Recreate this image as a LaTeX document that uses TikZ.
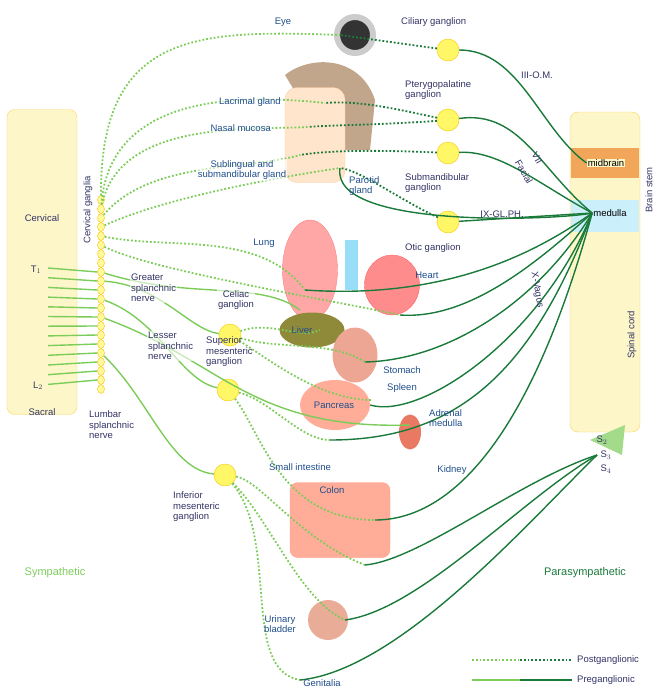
\documentclass[tikz,border=0pt]{standalone}
\usepackage{fontspec}
\setmainfont{Liberation Sans}
\usetikzlibrary{shapes.geometric}
\definecolor{sg}{HTML}{7CCC5A}
\definecolor{pg}{HTML}{1A7A3A}
\definecolor{org}{HTML}{1F4E8C}
\definecolor{gl}{HTML}{333366}
\definecolor{cord}{HTML}{FDF6C9}
\begin{document}
\begin{tikzpicture}[x=1pt,y=-1pt,font=\fontsize{9.5}{10.5}\selectfont,
 spre/.style={sg,line width=1.4pt},
 spost/.style={sg,line width=1.8pt,dotted},
 ppre/.style={pg,line width=1.4pt},
 ppost/.style={pg,line width=1.8pt,dotted},
 gang/.style={circle,draw=yellow!60!orange,fill=yellow!60,minimum size=22pt,inner sep=0},
 olab/.style={text=org,inner sep=1pt},
 glab/.style={text=gl,inner sep=1pt,align=left}]
\useasboundingbox (0,0) rectangle (658,691);
% spinal cords
\node[draw=yellow!50!orange!60,fill=cord,rounded corners=8pt,minimum width=70pt,minimum height=305pt] (lc) at (42,262) {};
\node[draw=yellow!50!orange!60,fill=cord,rounded corners=8pt,minimum width=70pt,minimum height=320pt] (rc) at (605,272) {};
\fill[orange!70!brown!70] (571,148) rectangle (639,178);
\fill[cyan!20] (571,200) rectangle (639,232);
\node[fill=cord,inner sep=1pt] (mb) at (606,163) {midbrain};
\node[fill=cyan!20,inner sep=1pt] (md) at (610,213) {medulla};
\fill[sg!70] (590,440) -- (625,425) -- (622,455) -- cycle;
\node[text=gl] (cerv) at (42,218) {Cervical};
\node[text=gl] (t1) at (36,270) {T$_1$};
\node[text=gl] (l2) at (38,386) {L$_2$};
\node[text=gl] (sac) at (42,412) {Sacral};
\node[text=gl,rotate=90] (bs) at (649,190) {Brain stem};
\node[text=gl,rotate=90] (sc) at (632,335) {Spinal cord};
\node[text=gl] (s2) at (602,440) {S$_2$};
\node[text=gl] (s3) at (606,455) {S$_3$};
\node[text=gl] (s4) at (606,469) {S$_4$};
% sympathetic chain
\foreach \i in {0,...,21} \node[ellipse,draw=yellow!50!orange,fill=yellow!40,minimum width=7pt,minimum height=9pt,inner sep=0] (ch\i) at (101,200+\i*9) {};
\node[text=gl,rotate=90] (cg) at (88,210) {Cervical ganglia};
% organs
\node[circle,fill=black!80,draw=gray!40,line width=6pt,minimum size=36pt] (eye) at (355,35) {};
\fill[brown!60!gray!70] (285,75) .. controls (310,55) and (360,55) .. (375,100) -- (370,150) -- (330,150) -- cycle;
\node[fill=orange!20,draw=orange!40,rounded corners=12pt,minimum width=60pt,minimum height=95pt] (head) at (315,135) {};
\node[fill=red!35,draw=red!50,ellipse,minimum width=55pt,minimum height=100pt] (lung) at (310,270) {};
\node[fill=red!45,draw=red!60,ellipse,minimum width=55pt,minimum height=60pt] (heart) at (392,285) {};
\fill[cyan!40] (345,240) rectangle (358,290);
\node[fill=olive!60!gray,ellipse,minimum width=65pt,minimum height=35pt] (liver) at (312,330) {};
\node[fill=red!40!brown!50,ellipse,minimum width=45pt,minimum height=55pt] (stom) at (355,355) {};
\node[fill=orange!40!red!40,ellipse,minimum width=70pt,minimum height=50pt] (pan) at (335,405) {};
\node[fill=red!50!brown!70,ellipse,minimum width=22pt,minimum height=35pt] (kid) at (410,432) {};
\node[fill=orange!40!red!40,rounded corners=8pt,minimum width=100pt,minimum height=75pt,draw=orange!50!red!50] (colon) at (340,520) {};
\node[fill=red!30!brown!50,ellipse,minimum width=40pt,minimum height=40pt] (blad) at (328,620) {};
% ganglia
\node[gang] (cil) at (448,50) {};
\node[gang] (pte) at (448,120) {};
\node[gang] (sub) at (448,153) {};
\node[gang] (oti) at (448,222) {};
\node[gang] (cel) at (230,335) {};
\node[gang] (sup) at (228,390) {};
\node[gang] (inf) at (225,475) {};
% coordinates
\coordinate (lac) at (325,103); \coordinate (nas) at (308,127); \coordinate (sbl) at (300,155);
\coordinate (par) at (340,168); \coordinate (lu) at (305,290); \coordinate (he) at (400,315);
\coordinate (li) at (320,330); \coordinate (st) at (365,362); \coordinate (sp) at (372,400);
\coordinate (ad) at (410,425); \coordinate (si) at (330,440); \coordinate (co) at (375,520);
\coordinate (co2) at (365,565); \coordinate (bl) at (345,620); \coordinate (gen) at (300,680);
\coordinate (ed) at (340,35);
% sympathetic preganglionic
\foreach \i in {0,...,12} \draw[spre] (48,268+\i*9.7) -- (ch\the\numexpr 8+\i\relax.west);
\draw[spre] (ch9) .. controls (160,285) and (190,330) .. (cel);
\draw[spre] (ch11) .. controls (160,320) and (180,380) .. (sup);
\draw[spre] (ch17) .. controls (150,400) and (170,470) .. (inf);
\draw[spre] (ch8) .. controls (190,300) and (260,280) .. (300,310);
\draw[spre] (ch13) .. controls (220,360) and (250,430) .. (ad);
% sympathetic postganglionic
\draw[spost] (ch0) .. controls (100,30) and (200,30) .. (ed);
\draw[spost] (ch1) .. controls (110,90) and (250,95) .. (lac);
\draw[spost] (ch1) .. controls (120,120) and (250,130) .. (nas);
\draw[spost] (ch2) .. controls (150,160) and (250,170) .. (sbl);
\draw[spost] (ch3) .. controls (160,200) and (260,180) .. (par);
\draw[spost] (ch4) .. controls (170,250) and (260,230) .. (lu);
\draw[spost] (ch5) .. controls (150,270) and (330,300) .. (he);
\draw[spost] (cel) .. controls (270,320) and (300,340) .. (li);
\draw[spost] (cel) .. controls (280,350) and (330,340) .. (st);
\draw[spost] (cel) .. controls (270,360) and (320,400) .. (sp);
\draw[spost] (sup) .. controls (270,400) and (300,440) .. (si);
\draw[spost] (sup) .. controls (260,430) and (280,520) .. (co);
\draw[spost] (inf) .. controls (260,480) and (300,540) .. (co2);
\draw[spost] (inf) .. controls (270,520) and (300,600) .. (bl);
\draw[spost] (inf) .. controls (280,540) and (240,670) .. (gen);
% parasympathetic preganglionic
\draw[ppre] (mb.west) .. controls (540,130) and (520,50) .. (cil);
\draw[ppre] (md.west) .. controls (540,170) and (520,110) .. (pte);
\draw[ppre] (md.west) .. controls (540,185) and (500,150) .. (sub);
\draw[ppre] (md.west) -- (oti);
\draw[ppre] (md.west) .. controls (560,220) and (330,230) .. (par);
\draw[ppre] (md.west) .. controls (540,250) and (450,300) .. (lu);
\draw[ppre] (md.west) .. controls (540,260) and (470,320) .. (he);
\draw[ppre] (md.west) .. controls (540,300) and (450,360) .. (st);
\draw[ppre] (md.west) .. controls (540,340) and (420,420) .. (pan.east);
\draw[ppre] (md.west) .. controls (530,380) and (450,440) .. (si);
\draw[ppre] (md.west) .. controls (530,440) and (450,520) .. (co);
\draw[ppre] (s3.west) .. controls (520,480) and (420,560) .. (co2);
\draw[ppre] (s3.west) .. controls (520,500) and (420,610) .. (bl);
\draw[ppre] (s3.west) .. controls (530,520) and (400,670) .. (gen);
% parasympathetic postganglionic
\draw[ppost] (cil) -- (ed);
\draw[ppost] (pte) .. controls (400,110) and (360,100) .. (lac);
\draw[ppost] (pte) .. controls (380,125) and (330,125) .. (nas);
\draw[ppost] (sub) .. controls (380,150) and (330,150) .. (sbl);
\draw[ppost] (oti) .. controls (400,200) and (360,170) .. (par);
% labels
\node[olab] (leye) at (283,22) {Eye};
\node[glab,anchor=west] at (400,22) {Ciliary ganglion};
\node[olab,anchor=east,fill=white,fill opacity=0.6,text opacity=1] at (282,102) {Lacrimal gland};
\node[olab,anchor=east,fill=white,fill opacity=0.6,text opacity=1] at (272,128) {Nasal mucosa};
\node[olab,align=center,fill=white,fill opacity=0.6,text opacity=1] at (242,170) {Sublingual and\\submandibular gland};
\node[olab,align=left,anchor=west] at (348,186) {Parotid\\gland};
\node[glab,anchor=west] at (404,90) {Pterygopalatine\\ganglion};
\node[glab,anchor=west] at (404,183) {Submandibular\\ganglion};
\node[glab,anchor=west] at (404,248) {Otic ganglion};
\node[glab] at (537,75) {III-O.M.};
\node[glab,rotate=-60] at (537,158) {VII};
\node[glab,rotate=-60] at (524,172) {Facial};
\node[glab] at (502,214) {IX-GL.PH.};
\node[glab,rotate=-80] at (537,290) {X-Vagus};
\node[olab] at (264,243) {Lung};
\node[olab] at (427,275) {Heart};
\node[olab] at (302,330) {Liver};
\node[olab] at (402,370) {Stomach};
\node[olab] at (402,388) {Spleen};
\node[olab] at (334,405) {Pancreas};
\node[olab,align=left,anchor=west] at (428,418) {Adrenal\\medulla};
\node[olab] at (452,470) {Kidney};
\node[olab] at (300,467) {Small intestine};
\node[olab] at (332,490) {Colon};
\node[olab,align=center] at (280,624) {Urinary\\bladder};
\node[olab] at (322,683) {Genitalia};
\node[glab,align=center,fill=white,fill opacity=0.6,text opacity=1] at (236,300) {Celiac\\ganglion};
\node[glab,align=left,anchor=west] at (205,352) {Superior\\mesenteric\\ganglion};
\node[glab,align=left,anchor=west] at (172,507) {Inferior\\mesenteric\\ganglion};
\node[glab,anchor=west,fill=white,fill opacity=0.6,text opacity=1] at (130,288) {Greater\\splanchnic\\nerve};
\node[glab,anchor=west,fill=white,fill opacity=0.6,text opacity=1] at (147,346) {Lesser\\splanchnic\\nerve};
\node[glab,anchor=west] at (88,425) {Lumbar\\splanchnic\\nerve};
\node[text=sg,font=\fontsize{11}{12}\selectfont] at (55,573) {Sympathetic};
\node[text=pg,font=\fontsize{11}{12}\selectfont] at (585,573) {Parasympathetic};
% legend
\coordinate (a1) at (472,660); \coordinate (a2) at (520,660); \coordinate (a3) at (572,660);
\coordinate (b1) at (472,680); \coordinate (b2) at (520,680); \coordinate (b3) at (572,680);
\draw[spost] (a1) -- (a2); \draw[ppost] (a2) -- (a3);
\draw[spre] (b1) -- (b2); \draw[ppre] (b2) -- (b3);
\node[glab,anchor=west] at (576,660) {Postganglionic};
\node[glab,anchor=west] at (576,680) {Preganglionic};
\end{tikzpicture}
\end{document}
